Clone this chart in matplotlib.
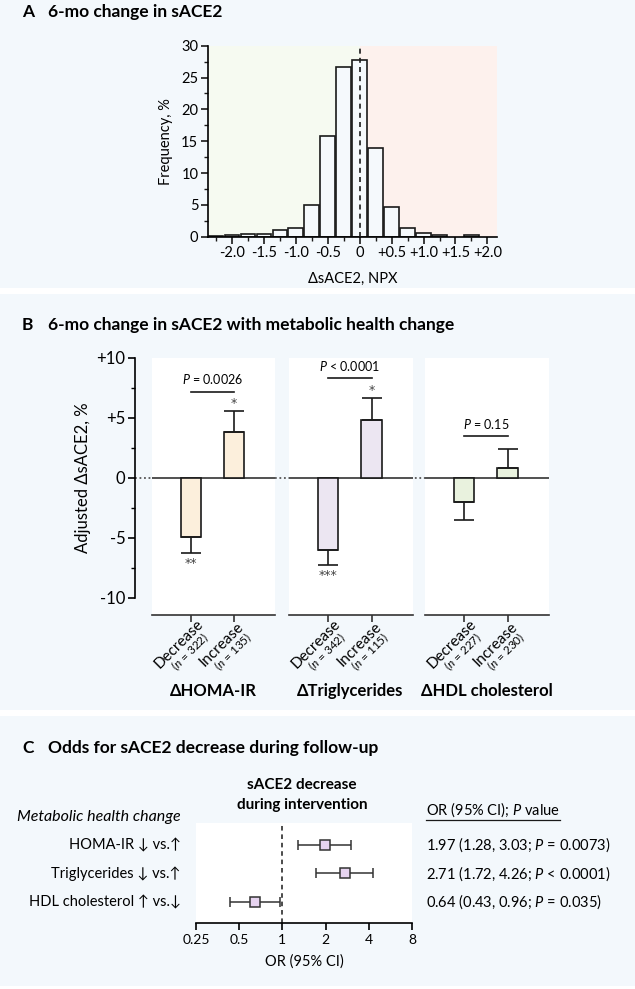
import matplotlib
matplotlib.use("Agg")
import matplotlib.pyplot as plt
from matplotlib.patches import Rectangle
from matplotlib.lines import Line2D
from matplotlib.ticker import MultipleLocator, FixedLocator
import numpy as np

plt.rcParams['font.family'] = ['Lato', 'DejaVu Sans']
plt.rcParams['mathtext.fontset'] = 'custom'
plt.rcParams['mathtext.rm'] = 'Lato'
plt.rcParams['mathtext.it'] = 'Lato:italic'
plt.rcParams['mathtext.bf'] = 'Lato:bold'
plt.rcParams['axes.linewidth'] = 1.2
plt.rcParams['xtick.major.width'] = 1.2
plt.rcParams['ytick.major.width'] = 1.2
plt.rcParams['xtick.minor.width'] = 1.0
plt.rcParams['ytick.minor.width'] = 1.0

# ---------------- DATA ----------------
# Panel A: histogram of 6-mo change in sACE2 (bin centers, % frequency)
hist_centers = [-2.25, -2.0, -1.75, -1.5, -1.25, -1.0, -0.75, -0.5, -0.25,
                0.0, 0.25, 0.5, 0.75, 1.0, 1.25, 1.5, 1.75, 2.0]
hist_freq = [0.15, 0.2, 0.45, 0.37, 1.1, 1.3, 5.0, 15.8, 26.7,
             27.8, 14.0, 4.6, 1.3, 0.65, 0.2, 0.0, 0.2, 0.0]
hist_xticks = [-2.0, -1.5, -1.0, -0.5, 0.0, 0.5, 1.0, 1.5, 2.0]
hist_xticklabels = ['-2.0', '-1.5', '-1.0', '-0.5', '0', '+0.5', '+1.0', '+1.5', '+2.0']

# Panel B: adjusted change in sACE2 by metabolic health change
groups = ['ΔHOMA-IR', 'ΔTriglycerides', 'ΔHDL cholesterol']
directions = ['Decrease', 'Increase']
n_values = [[322, 135], [342, 115], [227, 230]]
means = [[-4.95, 3.8], [-5.97, 4.8], [-2.0, 0.86]]
errors = [[1.3, 1.8], [1.25, 1.9], [1.47, 1.53]]
stars = [['**', '*'], ['***', '*'], ['', '']]
p_labels = ['$P$ = 0.0026', '$P$ < 0.0001', '$P$ = 0.15']
bar_colors = ['#fcefdc', '#ece6f2', '#e9f2de']
b_yticks = [-10, -5, 0, 5, 10]
b_yticklabels = ['-10', '-5', '0', '+5', '+10']

# Panel C: odds ratios
or_labels = ['HOMA-IR ↓ vs.↑', 'Triglycerides ↓ vs.↑', 'HDL cholesterol ↑ vs.↓']
or_values = [1.97, 2.71, 0.64]
or_low = [1.28, 1.72, 0.43]
or_high = [3.03, 4.26, 0.96]
or_text = ['1.97 (1.28, 3.03; $P$ = 0.0073)',
           '2.71 (1.72, 4.26; $P$ < 0.0001)',
           '0.64 (0.43, 0.96; $P$ = 0.035)']
c_xticks = [0.25, 0.5, 1, 2, 4, 8]
c_xticklabels = ['0.25', '0.5', '1', '2', '4', '8']

# ---------------- LAYOUT ----------------
W, H = 635, 989
fig = plt.figure(figsize=(W / 100, H / 100), dpi=100)
fig.patch.set_facecolor('white')
BG = '#f3f8fc'


def rect(l, t, r, b):
    return [l / W, 1 - b / H, (r - l) / W, (b - t) / H]


def fx(x):
    return x / W


def fy(y):
    return 1 - y / H


for (t, b) in [(0, 288), (294, 710), (716, 986)]:
    fig.patches.append(Rectangle((0, fy(b)), 1, (b - t) / H, transform=fig.transFigure,
                                 facecolor=BG, edgecolor='none', zorder=-10))

title_fs = 12.5
for letter, ypix, txt in [('A', 12, '6-mo change in sACE2'),
                          ('B', 325, '6-mo change in sACE2 with metabolic health change'),
                          ('C', 748, 'Odds for sACE2 decrease during follow-up')]:
    fig.text(fx(22), fy(ypix), letter, fontsize=title_fs, fontweight='bold', va='center')
    fig.text(fx(48), fy(ypix), txt, fontsize=title_fs, fontweight='bold', va='center')

# ---------------- PANEL A ----------------
axA = fig.add_axes(rect(208, 45.7, 497, 236.7))
axA.set_facecolor('none')
xl = (-2.375, 2.15)
axA.set_xlim(*xl)
axA.set_ylim(0, 30)
axA.axvspan(xl[0], 0, color='#f6faf1', zorder=0, lw=0)
axA.axvspan(0, xl[1], color='#fdf1ed', zorder=0, lw=0)
axA.bar([c for c, f in zip(hist_centers, hist_freq) if f > 0],
        [f for f in hist_freq if f > 0], width=0.23,
        facecolor='#f5f9fc', edgecolor='#1a1a1a', linewidth=1.2, zorder=2)
axA.axvline(0, color='#1a1a1a', ls=(0, (3, 2.5)), lw=1.2, zorder=3)
for s in ['top', 'right']:
    axA.spines[s].set_visible(False)
axA.set_xticks(hist_xticks)
axA.set_xticklabels(hist_xticklabels)
axA.xaxis.set_minor_locator(FixedLocator(np.arange(-2.25, 2.1, 0.5)))
axA.set_yticks(range(0, 31, 5))
axA.yaxis.set_minor_locator(MultipleLocator(2.5))
axA.tick_params(axis='both', which='major', length=5, labelsize=10.5, pad=2, color='#1a1a1a')
axA.tick_params(axis='both', which='minor', length=3, color='#1a1a1a')
axA.set_ylabel('Frequency, %', fontsize=10.5, labelpad=6)
axA.set_xlabel('ΔsACE2, NPX', fontsize=10.5, labelpad=8)

# ---------------- PANEL B ----------------
yb_top, yb_bot = 10, 10 - (615 - 358) / 12.0
axBg = fig.add_axes(rect(135, 358, 549, 615))
axBg.set_xlim(0, 1)
axBg.set_ylim(yb_bot, yb_top)
axBg.axhline(0, color='#555555', lw=1.3, ls=(0, (1, 1.5)), zorder=0)
axBg.axis('off')

axY = fig.add_axes(rect(135, 358, 140, 615))
axY.set_facecolor('none')
axY.set_ylim(yb_bot, yb_top)
for s in ['top', 'right', 'bottom']:
    axY.spines[s].set_visible(False)
axY.spines['left'].set_bounds(-10, 10)
axY.set_xticks([])
axY.set_yticks(b_yticks)
axY.set_yticklabels(b_yticklabels)
axY.yaxis.set_minor_locator(FixedLocator([-7.5, -2.5, 2.5, 7.5]))
axY.tick_params(axis='y', which='major', length=5, labelsize=12, pad=2)
axY.tick_params(axis='y', which='minor', length=3)
axY.set_ylabel('Adjusted ΔsACE2, %', fontsize=12, labelpad=4)
axY.yaxis.label.set_y((0 - yb_bot) / (yb_top - yb_bot))

panel_x = [(152, 275), (289, 413), (425, 549)]
for g in range(3):
    l, r = panel_x[g]
    ax = fig.add_axes(rect(l, 358, r, 615))
    ax.set_facecolor('white')
    ax.set_xlim(-0.9, 1.95)
    ax.set_ylim(yb_bot, yb_top)
    for s in ['top', 'right', 'left']:
        ax.spines[s].set_visible(False)
    ax.spines['bottom'].set_color('#333333')
    ax.set_yticks([])
    ax.axhline(0, color='#333333', lw=1.2, zorder=1)
    xs = [0, 1]
    for i in range(2):
        m, e = means[g][i], errors[g][i]
        yerr = [[0], [e]] if m > 0 else [[e], [0]]
        ax.bar(xs[i], m, width=0.47, facecolor=bar_colors[g], edgecolor='#1a1a1a',
               linewidth=1.2, zorder=2)
        ax.errorbar(xs[i], m, yerr=yerr, fmt='none', ecolor='#1a1a1a', elinewidth=1.2,
                    capsize=7.5, capthick=1.2, zorder=3)
        if stars[g][i]:
            if m > 0:
                ax.text(xs[i], m + e + 0.05, stars[g][i], ha='center', va='bottom',
                        fontsize=9, color='#444444', family='DejaVu Sans')
            else:
                ax.text(xs[i], m - e - 0.35, stars[g][i], ha='center', va='top',
                        fontsize=9, color='#444444', family='DejaVu Sans')
    top = max(means[g][i] + errors[g][i] for i in range(2))
    yb = top + (1.6 if g < 2 else 1.1)
    ax.plot(xs, [yb, yb], color='#1a1a1a', lw=1.2)
    ax.text(0.5, yb + 0.45, p_labels[g], ha='center', va='bottom', fontsize=9)
    ax.set_xticks(xs)
    ax.set_xticklabels([])
    ax.tick_params(axis='x', length=5, width=1.2, color='#333333')
    for i in range(2):
        ax.annotate(directions[i], xy=(xs[i], 0), xycoords=('data', 'axes fraction'),
                    xytext=(-12 * 0.72, -29 * 0.72), textcoords='offset points',
                    rotation=45, ha='center', va='center', rotation_mode='anchor',
                    fontsize=11)
        ax.annotate('($n$ = %d)' % n_values[g][i], xy=(xs[i], 0),
                    xycoords=('data', 'axes fraction'),
                    xytext=(-1 * 0.72, -37 * 0.72), textcoords='offset points',
                    rotation=45, ha='center', va='center', rotation_mode='anchor',
                    fontsize=8.5)
    fig.text(fx((l + r) / 2 - 0.5), fy(691), groups[g], fontsize=12,
             fontweight='bold', ha='center', va='center')

# ---------------- PANEL C ----------------
axC = fig.add_axes(rect(196, 823, 412, 923))
axC.set_facecolor('white')
axC.set_xscale('log', base=2)
axC.set_xlim(0.25, 8)
axC.set_ylim(0.26, 3.77)
rows = [3, 2, 1]
axC.axvline(1, color='#1a1a1a', ls=(0, (3, 2.5)), lw=1.1, zorder=1)
for i in range(3):
    axC.errorbar(or_values[i], rows[i],
                 xerr=[[or_values[i] - or_low[i]], [or_high[i] - or_values[i]]],
                 fmt='s', ms=6.5, mfc='#e6d3ef', mec='#333333', mew=1.1,
                 ecolor='#333333', elinewidth=1.1, capsize=3.6, capthick=1.1, zorder=3)
    axC.text(-0.07, rows[i], or_labels[i], transform=axC.get_yaxis_transform(),
             ha='right', va='center', fontsize=10.5)
    fig.text(fx(426), axC.transData.transform((1, rows[i]))[1] / fig.bbox.height,
             or_text[i], ha='left', va='center', fontsize=10.5)
for s in ['top', 'right', 'left']:
    axC.spines[s].set_visible(False)
axC.set_yticks([])
axC.set_xticks(c_xticks)
axC.set_xticklabels(c_xticklabels)
axC.xaxis.set_minor_locator(FixedLocator([]))
axC.tick_params(axis='x', length=5, labelsize=10, pad=3)
axC.set_xlabel('OR (95% CI)', fontsize=10.5, labelpad=6)

fig.text(fx(302), fy(785), 'sACE2 decrease', fontsize=11, fontweight='bold',
         ha='center', va='center')
fig.text(fx(302), fy(805), 'during intervention', fontsize=11, fontweight='bold',
         ha='center', va='center')
fig.text(fx(181), fy(817), 'Metabolic health change', fontsize=11.5, style='italic',
         ha='right', va='center')
hdr = fig.text(fx(426), fy(810), 'OR (95% CI); $P$ value', fontsize=10.5,
               ha='left', va='center')
fig.canvas.draw()
bb = hdr.get_window_extent()
fig.add_artist(Line2D([bb.x0 / fig.bbox.width, bb.x1 / fig.bbox.width],
                      [(bb.y0 - 1) / fig.bbox.height] * 2,
                      transform=fig.transFigure, color='#1a1a1a', lw=0.9))

fig.savefig('out.png', dpi=100, facecolor='white')
